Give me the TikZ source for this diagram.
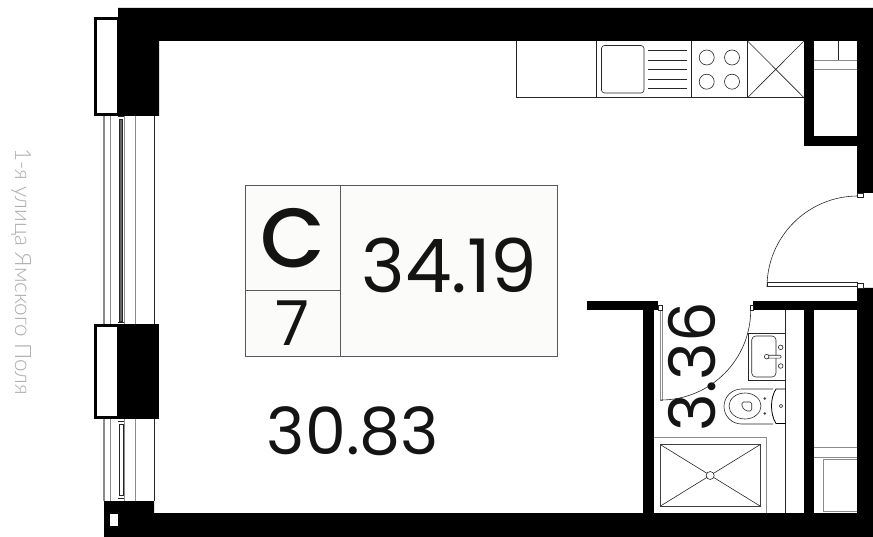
\documentclass[tikz,border=0pt]{standalone}
\usepackage{fontspec}
\setmainfont{Lato}
\newfontfamily\numfont{Poppins}
\newfontfamily\clsfont{Poppins Medium}
\newfontfamily\streetfont{Lato Light}
\definecolor{boxfill}{HTML}{FBFBF9}
\definecolor{streetgrey}{HTML}{ADADAD}
\definecolor{txt}{HTML}{141414}
\tikzset{
  wall/.style={fill=black,draw=none},
  thin line/.style={draw=black!85,line width=0.6pt},
  grey line/.style={draw=black!45,line width=0.9pt},
  box line/.style={draw=black!65,line width=0.8pt},
  num/.style={font=\numfont,text=txt,inner sep=0pt,anchor=center},
}
\begin{document}
\begin{tikzpicture}[x=1pt,y=-1pt]
\useasboundingbox (0,0) rectangle (873,537);
% window lines
\foreach \a/\b in {116/324,419/501}{
  \draw[draw=black!45,line width=1.4pt] (104,\a) -- (104,\b);
  \draw[grey line] (110,\a) -- (110,\b);
  \draw[grey line] (124.5,\a) -- (124.5,\b);
  \draw[grey line] (135.7,\a) -- (135.7,\b);
  \draw[thin line] (154,\a) -- (154,\b);
}
\draw[thin line,fill=black!60] (119,119) rectangle (122.5,321);
\draw[thin line] (118,116.5) -- (124,116.5) (118,322) -- (124,322);
\draw[thin line,fill=white] (119,424) rectangle (123,495);
\draw[thin line] (118,421) -- (124,421) (118,498) -- (124,498);
% walls
\fill[wall] (118,8) -- (873,8) -- (873,193) -- (857,193) -- (857,146) -- (804,146) -- (804,41) -- (159,41) -- (159,116) -- (118,116) -- cycle;
\fill[white] (814,41) rectangle (857,136);
\fill[wall] (118,324) rectangle (159,419);
\draw[draw=black,line width=3pt,fill=white] (95.5,18.5) rectangle (118,114.5);
\draw[draw=black,line width=3pt,fill=white] (95.5,325.5) rectangle (118,417.5);
\fill[wall] (104,501) -- (154,501) -- (154,513) -- (857,513) -- (857,288) -- (873,288) -- (873,537) -- (104,537) -- cycle;
\fill[white] (110,514) rectangle (118,526);
\fill[wall] (587,301) rectangle (658,310);
\fill[wall] (643,301) rectangle (654,513);
\fill[wall] (753,301) rectangle (857,310);
\fill[wall] (804,301) rectangle (814,513);
% kitchen
\draw[thin line] (516,41) -- (516,97.7) -- (804,97.7);
\draw[thin line] (596.5,41) -- (596.5,97.7) (691.5,41) -- (691.5,97.7) (747.5,41) -- (747.5,97.7);
\draw[thin line,rounded corners=3pt] (601.5,45.5) rectangle (644,93);
\foreach \y in {50.5,60,69.5,79,88.3} \draw[thin line] (648,\y) -- (687,\y);
\foreach \x in {706.7,732} \foreach \y in {57.5,81.7} \draw[thin line] (\x,\y) circle[radius=7.5pt];
\draw[thin line] (747.5,41) -- (804,97.7) (804,41) -- (747.5,97.7);
% niche
\draw[grey line] (814,60) -- (857,60) (814,69) -- (857,69);
\draw[thin line] (838,41) -- (838,60);
% entrance door
\draw[thin line] (858,196) arc[start angle=90,end angle=180,radius=91pt];
\draw[thin line,fill=white] (767,282.5) rectangle (857,286);
\draw[thin line,fill=white] (857,283.5) rectangle (863,288);
\draw[thin line,fill=white] (857,193) rectangle (863,197);
% bathroom door
\draw[grey line,fill=white] (660.5,310) rectangle (662.7,400);
\draw[thin line,fill=white] (658,305.5) rectangle (662,310);
\draw[thin line,fill=white] (750,305.5) rectangle (753,310);
\draw[thin line] (660.7,400) arc[start angle=270,end angle=360,radius=90pt];
% bathroom
\draw[thin line] (785.7,310) -- (785.7,513);
\draw[thin line] (748,333.3) rectangle (785.7,380.3);
\draw[thin line,rounded corners=4pt] (751.7,336) rectangle (776,377);
\draw[thin line,fill=white,rounded corners=1pt] (767,355.3) rectangle (781,358.2);
\draw[thin line,fill=white] (766.7,356.7) circle[radius=2.3pt];
\draw[thin line,fill=white] (780.7,347.3) circle[radius=2.3pt];
\draw[thin line,fill=white] (780.7,366) circle[radius=2.3pt];
\draw[thin line] (773,389) -- (741.5,389) arc[start angle=90,end angle=270,radius=17.5pt] -- (773,424);
\draw[thin line] (745,393) arc[start angle=90,end angle=450,x radius=16pt,y radius=13pt];
\draw[thin line,rounded corners=1.5pt] (751.7,402) -- (742,402) -- (742,407) -- (746,411) -- (751.7,411) -- cycle;
\fill[black!75] (764.7,398.5) circle[radius=1.3pt] (764.7,413.5) circle[radius=1.3pt];
\draw[draw=black,line width=0.8pt] (785.7,389) -- (776,389) .. controls (770,398) and (770,414) .. (776,423.5) -- (785.7,423.5);
\draw[thin line] (781,406) circle[radius=1.8pt];
% shower
\draw[grey line] (654,437.7) -- (766.7,437.7) -- (766.7,513);
\draw[draw=black!75,line width=0.8pt] (660.5,444.7) rectangle (760,506);
\draw[thin line] (660.5,444.7) -- (760,506) (760,444.7) -- (660.5,506);
\draw[thin line,fill=white] (710.2,475.5) circle[radius=4pt];
% right room
\draw[grey line] (814,447) -- (857,447) (814,457) -- (857,457);
\draw[grey line] (857,459) -- (823.3,459) -- (823.3,511) -- (857,511);
% label box
\draw[box line,fill=boxfill] (245.5,185.7) rectangle (557.5,356);
\draw[box line] (340,185.7) -- (340,356) (245.5,290) -- (340,290);
\node[num,font=\clsfont\fontsize{84}{84}\selectfont] (cls) at (292.5,238.5) {C};
\node[num,font=\numfont\fontsize{62}{62}\selectfont] (flr) at (292.5,323) {7};
\node[num,font=\numfont\fontsize{74}{74}\selectfont] (tot) at (449.5,265.5) {34.19};
\node[num,font=\numfont\fontsize{65}{65}\selectfont] (liv) at (353,431) {30.83};
\node[num,font=\numfont\fontsize{64}{64}\selectfont,rotate=90] (bath) at (692.5,366.5) {3.36};
\node[font=\streetfont\fontsize{22.5}{22.5}\selectfont,text=streetgrey,rotate=-90,inner sep=0pt] (street) at (21,271.5) {1-я улица Ямского Поля};
\end{tikzpicture}
\end{document}
